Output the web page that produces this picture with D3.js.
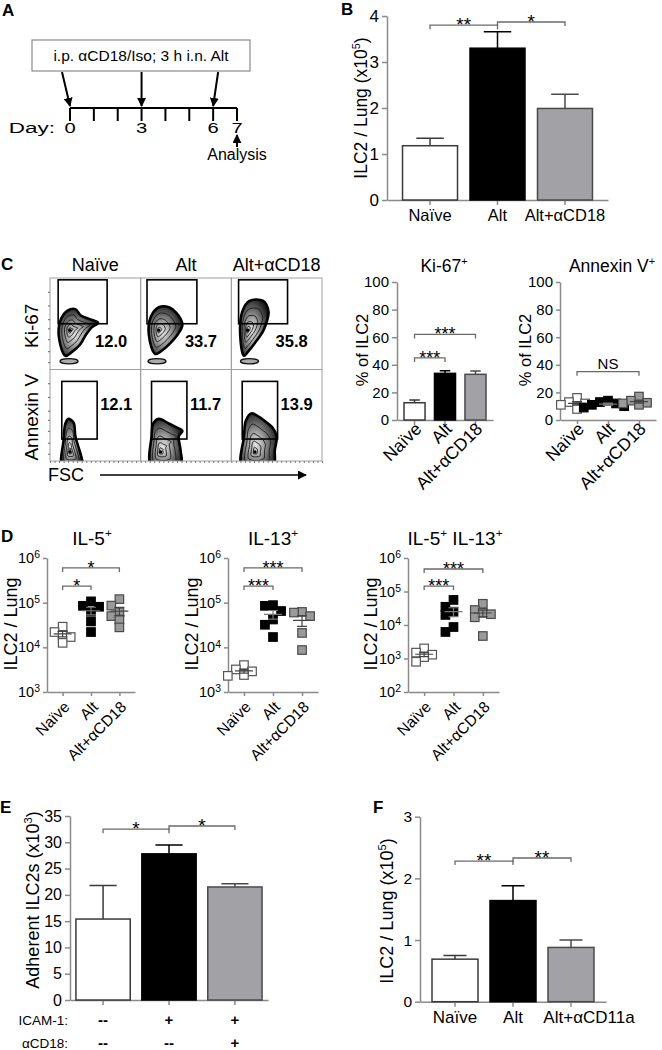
<!DOCTYPE html>
<html>
<head>
<meta charset="utf-8">
<script src="https://cdn.jsdelivr.net/npm/d3@7/dist/d3.min.js"></script>
<style>
html,body{margin:0;padding:0;background:#fff;}
svg{display:block;}
svg text{font-family:"Liberation Sans",Arial,Helvetica,sans-serif;fill:#000;}
</style>
</head>
<body>
<svg id="fig" width="662" height="1050"></svg>
<script>
// ================= DATA =================
// Panel A – protocol timeline
const timelineDays = [0,1,2,3,4,5,6,7];
const labelledDays = [0,3,6,7];
const treatmentDays = [0,3,6];
const analysisDay = 7;
const protocolText = "i.p. αCD18/Iso; 3 h i.n. Alt";

// Panel B – ILC2 per lung (x10^5)
const groupsB = ["Naïve","Alt","Alt+αCD18"];
const meanB = [1.18, 3.30, 1.99];
const semB = [0.16, 0.36, 0.31];
const ticksB = [0,1,2,3,4];
const sigB = [[0,1,3.80,"**"],[1,2,3.87,"*"]];

// Panel C – flow plots (FSC vs marker, 0-100 display units)
const flowGroups = ["Naïve","Alt","Alt+αCD18"];
const flowMarkers = ["Ki-67","Annexin V"];
const flowPercent = [["12.0","33.7","35.8"],["12.1","11.7","13.9"]];
const ki67Gates = [[9,63,50,98],[7,62,50,98],[8,62,50,98]];
const annexinGates = [[13,52,24,87],[12,51,24,87],[12,51,24,87]];
const ki67NaiveOutline = [[17,15],[10,34],[11,52],[19,64],[28,66],[34,59],[44,55],[53,51],[46,46],[39,37],[33,27],[24,19]];
const ki67AltOutline = [[16,17],[9,38],[11,57],[20,68],[31,68],[40,61],[46,49],[42,40],[33,29],[24,21]];
const ki67CD18Outline = [[14,15],[10,34],[12,63],[20,75],[35,75],[41,63],[39,52],[35,42],[26,29],[18,19]];
const ki67Peaks = [[22,43],[20,43],[18,43]];
const ki67Debris = [[21,9],[18,9],[20,9]];
const annexinNaiveOutline = [[20,46],[26,42],[28,27],[35,3],[36,-6],[14,-6],[15,23],[17,41]];
const annexinAltOutline = [[20,46],[31,41],[39,37],[46,33],[42,27],[44,12],[44,-6],[12,-6],[12,27],[14,41]];
const annexinCD18Outline = [[22,52],[31,48],[39,42],[45,37],[50,27],[48,12],[46,-6],[12,-6],[14,27],[16,44]];
const annexinPeaks = [[22,10],[22,10],[26,10]];

// Panel C – Ki-67+ and Annexin V+ (% of ILC2)
const meanKi67 = [12.5, 33.8, 33.1];
const semKi67 = [2.0, 1.9, 2.4];
const ticksPct = [0,20,40,60,80,100];
const sigKi67 = [[0,1,45,"***"],[0,2,62,"***"]];
const annexinNaive = [12, 16, 8, 11, 13];
const annexinAlt = [13, 11, 9, 12, 10, 14];
const annexinCD18 = [17, 12.5, 11, 14, 12];
const sigAnnexin = [[0,2,35,"NS"]];

// Panel D – cytokine+ ILC2 per lung (log)
const il5Naive = [2.9e4, 2.2e4, 1.9e4, 1.7e4, 1.26e4];
const il5Alt = [1.07e5, 8.5e4, 8.1e4, 6.3e4, 3.8e4, 2.2e4];
const il5CD18 = [1.2e5, 8.6e4, 6.1e4, 5.0e4, 4.2e4, 2.8e4];
const il13Naive = [4.0e3, 3.2e3, 2.9e3, 2.4e3, 2.3e3];
const il13Alt = [8.8e4, 8.5e4, 6.5e4, 4.2e4, 3.2e4, 1.7e4];
const il13CD18 = [6.2e4, 6.0e4, 5.0e4, 2.1e4, 8.7e3];
const dpNaive = [2.0e3, 1.5e3, 1.3e3, 1.1e3, 8.0e2];
const dpAlt = [5.6e4, 3.5e4, 2.5e4, 2.0e4, 8.7e3, 6.2e3];
const dpCD18 = [4.3e4, 2.8e4, 2.3e4, 2.1e4, 1.7e4, 4.7e3];
const ticksLog3 = [1e3,1e4,1e5,1e6];
const ticksLog2 = [1e2,1e3,1e4,1e5,1e6];
const sigIL5 = [[0,1,2.35e5,"*"],[0,2,6.0e5,"*"]];
const sigIL13 = [[0,1,2.35e5,"***"],[0,2,6.0e5,"***"]];
const sigDP = [[0,1,1.45e5,"***"],[0,2,4.7e5,"***"]];

// Panel E – adherent ILC2s (x10^3)
const conditionsE = ["medium","ICAM-1","ICAM-1 + αCD18"];
const meanE = [15.4, 27.8, 21.5];
const semE = [6.4, 1.7, 0.6];
const ticksE = [0,5,10,15,20,25,30,35];
const icamRow = ["--","+","+"];
const cd18Row = ["--","--","+"];
const sigE = [[0,1,32.5,"*"],[1,2,33.1,"*"]];

// Panel F – ILC2 per lung (x10^5)
const groupsF = ["Naïve","Alt","Alt+αCD11a"];
const meanF = [0.69, 1.64, 0.88];
const semF = [0.06, 0.24, 0.12];
const ticksF = [0,1,2,3];
const sigF = [[0,1,2.28,"**"],[1,2,2.33,"**"]];

// ================= DRAWING =================
const svg = d3.select("#fig");
svg.append("rect").attr("width",662).attr("height",1050).attr("fill","#fff");
const AX = "#8a8a8a";
const BR = "#6a6a6a";
const barFills = ["#ffffff","#000000","#a2a2a6"];
const barStrokes = ["#3a3a3a","#000000","#4a4a4a"];
const ptFills = ["#ffffff","#000000","#9a9a9a"];
const ptStrokes = ["#555555","#000000","#4a4a4a"];

const defs = svg.append("defs");
defs.append("marker").attr("id","arr").attr("viewBox","0 0 10 10").attr("refX",9).attr("refY",5)
  .attr("markerWidth",9).attr("markerHeight",9).attr("markerUnits","userSpaceOnUse").attr("orient","auto")
  .append("path").attr("d","M0,0L10,5L0,10z").attr("fill","#000");
const zebra = defs.append("radialGradient").attr("id","zebra").attr("cx","42%").attr("cy","55%").attr("r","60%");
[[0,"#e4e4e4"],[0.35,"#a6a6a6"],[0.7,"#585858"],[1,"#1e1e1e"]]
  .forEach(([o,c]) => zebra.append("stop").attr("offset",o).attr("stop-color",c));

function rich(t, parts, size) {
  let cur = 0;
  parts.forEach(p => {
    const sup = Array.isArray(p);
    const off = sup ? -0.42*size : 0;
    const ts = t.append("tspan").text(sup ? p[0] : p).attr("dy", (off-cur) + "px");
    if (sup) ts.attr("font-size", size*0.62);
    cur = off;
  });
  return t;
}
function letter(s, x, y) {
  svg.append("text").attr("x",x).attr("y",y).attr("font-size",17).attr("font-weight","bold").text(s);
}
function yLabel(cx, cy, parts, size) {
  const t = svg.append("text").attr("transform",`translate(${cx + 0.36*size},${cy}) rotate(-90)`)
    .attr("text-anchor","middle").attr("font-size",size);
  rich(t, parts, size);
}
function title(cx, y, parts, size) {
  const t = svg.append("text").attr("x",cx).attr("y",y).attr("text-anchor","middle").attr("font-size",size);
  rich(t, parts, size);
}
function styleAxis(g, fs) {
  g.select(".domain").attr("stroke",AX).attr("stroke-width",1.5);
  g.selectAll(".tick line").attr("stroke",AX).attr("stroke-width",1.5);
  g.selectAll(".tick text").attr("font-size",fs).attr("fill","#000");
}
function brackets(g, cx, y, list, size) {
  list.forEach(([a,b,v,lab]) => {
    const yy = y(v), x1 = cx(a), x2 = cx(b);
    g.append("path").attr("d",`M${x1},${yy+4}V${yy}H${x2}V${yy+4}`)
      .attr("fill","none").attr("stroke",BR).attr("stroke-width",1.3);
    const star = lab.indexOf("*") >= 0;
    g.append("text").attr("x",(x1+x2)/2).attr("y", star ? yy + 0.32*size : yy - 3)
      .attr("text-anchor","middle").attr("font-size", star ? size : 15).text(lab);
  });
}
function rotLabels(g, cx, cats, axisY, size, dx, dy) {
  cats.forEach((c,i) => {
    g.append("text").attr("transform",`translate(${cx(i)+dx},${axisY+dy}) rotate(-45)`)
      .attr("text-anchor","end").attr("font-size",size).text(c);
  });
}

function barPanel(o) {
  const g = svg.append("g");
  const x = d3.scaleBand().domain(o.cats).range([o.left,o.right]).paddingInner(o.pi).paddingOuter(o.po);
  const y = d3.scaleLinear().domain([0,o.max]).range([o.bottom,o.top]);
  const ya = g.append("g").attr("transform",`translate(${o.left},0)`)
    .call(d3.axisLeft(y).tickValues(o.ticks).tickFormat(d3.format("d")).tickSize(5).tickSizeOuter(0).tickPadding(3));
  styleAxis(ya, o.tickFs);
  const xa = g.append("g").attr("transform",`translate(0,${o.bottom})`)
    .call(d3.axisBottom(x).tickSize(5).tickSizeOuter(0).tickFormat(""));
  styleAxis(xa, 10);
  const cx = i => x(o.cats[i]) + x.bandwidth()/2;
  const cap = x.bandwidth()*0.25;
  o.means.forEach((m,i) => {
    const top = y(m + o.sems[i]);
    g.append("path").attr("d",`M${cx(i)},${y(m)}V${top}M${cx(i)-cap},${top}H${cx(i)+cap}`)
      .attr("stroke",barStrokes[i]).attr("stroke-width",1.5).attr("fill","none");
  });
  g.selectAll(null).data(o.means).join("rect")
    .attr("x",(d,i) => x(o.cats[i])).attr("y",d => y(d))
    .attr("width",x.bandwidth()).attr("height",d => y(0) - y(d))
    .attr("fill",(d,i) => barFills[i]).attr("stroke",(d,i) => barStrokes[i]).attr("stroke-width",1.5);
  brackets(g, cx, y, o.sig, o.sigFs);
  return {g, x, y, cx};
}

function scatterPanel(o) {
  const g = svg.append("g");
  const x = d3.scalePoint().domain(o.cats).range([o.left,o.right]).padding(0.55);
  const y = (o.log ? d3.scaleLog() : d3.scaleLinear()).domain(o.domain).range([o.bottom,o.top]);
  const ya = g.append("g").attr("transform",`translate(${o.left},0)`)
    .call(d3.axisLeft(y).tickValues(o.ticks).tickFormat(d3.format("d")).tickSize(4).tickSizeOuter(0).tickPadding(3));
  styleAxis(ya, o.tickFs);
  if (o.log) {
    ya.selectAll(".tick text").each(function(d) {
      const t = d3.select(this); t.text(null);
      t.append("tspan").text("10");
      t.append("tspan").attr("dy","-0.45em").attr("font-size","0.72em").text(Math.round(Math.log10(d)));
    });
  }
  const xa = g.append("g").attr("transform",`translate(0,${o.bottom})`)
    .call(d3.axisBottom(x).tickSize(4).tickSizeOuter(0).tickFormat(""));
  styleAxis(xa, 10);
  const s = o.size;
  o.groups.forEach((vals, gi) => {
    const c = x(o.cats[gi]);
    const placed = [];
    vals.slice().sort((a,b) => b-a).forEach(v => {
      const py = y(v);
      let px = c;
      for (const k of [0,-1,1,-2,2,-3,3]) {
        const cand = c + k*s*0.95;
        if (!placed.some(p => Math.abs(p[0]-cand) < s*0.85 && Math.abs(p[1]-py) < s*0.85)) { px = cand; break; }
      }
      placed.push([px,py]);
    });
    g.selectAll(null).data(placed).join("rect")
      .attr("x",p => p[0]-s/2).attr("y",p => p[1]-s/2).attr("width",s).attr("height",s)
      .attr("fill",ptFills[gi]).attr("stroke",ptStrokes[gi]).attr("stroke-width",1.2);
    const m = d3.mean(vals), se = d3.deviation(vals)/Math.sqrt(vals.length);
    const lo = y(Math.max(m-se, o.domain[0])), hi = y(m+se), ym = y(m);
    g.append("path").attr("d",`M${c-9},${ym}H${c+9}M${c},${lo}V${hi}M${c-5},${lo}H${c+5}M${c-5},${hi}H${c+5}`)
      .attr("stroke", gi === 1 ? "#777" : "#444").attr("stroke-width",1.2).attr("fill","none");
  });
  const cx = i => x(o.cats[i]);
  brackets(g, cx, y, o.sig, o.sigFs);
  return {g, x, y, cx};
}

// ---------- Panel A ----------
letter("A", 2, 16);
const dayX = d3.scaleLinear().domain([0,7]).range([70,237]);
const tlY = 108;
const gA = svg.append("g");
gA.append("rect").attr("x",32).attr("y",40).attr("width",218).attr("height",31)
  .attr("fill","#fff").attr("stroke","#8a8a8a").attr("stroke-width",1.2);
gA.append("text").attr("x",141).attr("y",61).attr("text-anchor","middle").attr("font-size",15.5).text(protocolText);
gA.append("line").attr("x1",dayX(timelineDays[0])).attr("x2",dayX(timelineDays[timelineDays.length-1]))
  .attr("y1",tlY).attr("y2",tlY).attr("stroke","#000").attr("stroke-width",2);
gA.selectAll(null).data(timelineDays).join("line")
  .attr("x1",d => dayX(d)).attr("x2",d => dayX(d)).attr("y1",tlY).attr("y2",tlY+13)
  .attr("stroke","#000").attr("stroke-width",2);
gA.selectAll(null).data(labelledDays).join("text")
  .attr("transform",d => `translate(${dayX(d)},133) scale(1.3,1)`).attr("text-anchor","middle").attr("font-size",15.5).text(d => d);
gA.append("text").attr("transform",`translate(${dayX(0)-15},133) scale(1.45,1)`).attr("text-anchor","end").attr("font-size",15.5).text("Day:");
const arrowTilt = [-8, 0, 5];
treatmentDays.forEach((d,i) => {
  gA.append("line").attr("x1",dayX(d)+arrowTilt[i]).attr("y1",72).attr("x2",dayX(d)).attr("y2",tlY-2)
    .attr("stroke","#000").attr("stroke-width",2).attr("marker-end","url(#arr)");
});
gA.append("line").attr("x1",dayX(analysisDay)).attr("x2",dayX(analysisDay)).attr("y1",147).attr("y2",135)
  .attr("stroke","#000").attr("stroke-width",2).attr("marker-end","url(#arr)");
gA.append("text").attr("x",dayX(analysisDay)).attr("y",160).attr("text-anchor","middle").attr("font-size",16).text("Analysis");

// ---------- Panel B ----------
letter("B", 341, 15);
const pB = barPanel({cats:groupsB, means:meanB, sems:semB, ticks:ticksB, max:4,
  left:387, right:608, top:16, bottom:200, pi:0.185, po:0.23, tickFs:17, sig:sigB, sigFs:19});
groupsB.forEach((c,i) => pB.g.append("text").attr("x",pB.cx(i)).attr("y",221).attr("text-anchor","middle").attr("font-size",16.5).text(c));
yLabel(361, 108, ["ILC2 / Lung (x10",["5"],")"], 17.5);

// ---------- Panel C: flow ----------
letter("C", 1, 270);
const colBand = d3.scaleBand().domain(flowGroups).range([50,322]);
const rowBand = d3.scaleBand().domain(flowMarkers).range([278,461]);
const gC = svg.append("g");
const ki67Outlines = [ki67NaiveOutline, ki67AltOutline, ki67CD18Outline];
const annexinOutlines = [annexinNaiveOutline, annexinAltOutline, annexinCD18Outline];
const ringScales = [0.72, 0.48, 0.28, 0.12];
flowMarkers.forEach((mk, ri) => {
  flowGroups.forEach((gr, ci) => {
    const bx = colBand(gr), by = rowBand(mk), bw = colBand.bandwidth(), bh = rowBand.bandwidth();
    const xs = d3.scaleLinear().domain([0,100]).range([bx,bx+bw]);
    const ys = d3.scaleLinear().domain([0,100]).range([by+bh,by]);
    const id = `clip${ri}${ci}`;
    defs.append("clipPath").attr("id",id).append("rect").attr("x",bx).attr("y",by).attr("width",bw).attr("height",bh);
    const cell = gC.append("g").attr("clip-path",`url(#${id})`);
    const outline = ri === 0 ? ki67Outlines[ci] : annexinOutlines[ci];
    const peak = ri === 0 ? ki67Peaks[ci] : annexinPeaks[ci];
    const line = d3.line().x(p => xs(p[0])).y(p => ys(p[1])).curve(d3.curveCatmullRomClosed.alpha(0.5));
    if (ri === 0) {
      const db = ki67Debris[ci];
      cell.append("ellipse").attr("cx",xs(db[0])).attr("cy",ys(db[1])).attr("rx",9).attr("ry",2.6)
        .attr("fill","#aaa").attr("stroke","#111").attr("stroke-width",1.4);
    }
    cell.append("path").attr("d",line(outline)).attr("fill","url(#zebra)").attr("stroke","#000").attr("stroke-width",2.6);
    ringScales.forEach(f => {
      const pts = outline.map(p => [peak[0] + (p[0]-peak[0])*f, peak[1] + (p[1]-peak[1])*f]);
      cell.append("path").attr("d",line(pts)).attr("fill","none").attr("stroke","#1a1a1a").attr("stroke-width",0.9);
    });
    cell.append("circle").attr("cx",xs(peak[0])).attr("cy",ys(peak[1])).attr("r",1.6).attr("fill","#000");
    const gate = ri === 0 ? ki67Gates[ci] : annexinGates[ci];
    gC.append("rect").attr("x",xs(gate[0])).attr("y",ys(gate[3])).attr("width",xs(gate[1])-xs(gate[0]))
      .attr("height",ys(gate[2])-ys(gate[3])).attr("fill","none").attr("stroke","#000").attr("stroke-width",1.6);
    const lx = ri === 0 ? xs(gate[1]) - 12 : xs(gate[1]) + 3;
    const ly = ri === 0 ? ys(gate[2]) + 23 : ys(gate[3]) + 29;
    gC.append("text").attr("x",lx).attr("y",ly).attr("font-size",16.5).attr("font-weight","bold").text(flowPercent[ri][ci]);
    gC.append("rect").attr("x",bx).attr("y",by).attr("width",bw).attr("height",bh)
      .attr("fill","none").attr("stroke","#a0a0a0").attr("stroke-width",1);
  });
});
const flowTickY = d3.scaleLinear().domain([0,100]);
flowMarkers.forEach(mk => {
  const by = rowBand(mk), bh = rowBand.bandwidth();
  flowTickY.range([by+bh,by]);
  const ax = gC.append("g").attr("transform",`translate(${colBand.range()[0]},0)`)
    .call(d3.axisLeft(flowTickY).tickValues([8,20,33,45,55,70,85]).tickSize(2).tickFormat(""));
  ax.select(".domain").remove();
  ax.selectAll(".tick line").attr("stroke","#666");
});
const flowTickX = d3.scaleLinear().domain([0,300]).range([colBand.range()[0], colBand.range()[1]]);
const bxAx = gC.append("g").attr("transform",`translate(0,${rowBand.range()[1]})`)
  .call(d3.axisBottom(flowTickX).ticks(60).tickSize(2).tickFormat(""));
bxAx.select(".domain").remove();
bxAx.selectAll(".tick line").attr("stroke","#777");
flowGroups.forEach(gr => title(colBand(gr)+colBand.bandwidth()/2, 271, [gr], 18));
flowMarkers.forEach(mk => yLabel(31, rowBand(mk)+rowBand.bandwidth()/2 + 2, [mk], 19));
svg.append("text").attr("x",48).attr("y",481).attr("font-size",18).text("FSC");
svg.append("line").attr("x1",100).attr("x2",306).attr("y1",475).attr("y2",475)
  .attr("stroke","#000").attr("stroke-width",1.6).attr("marker-end","url(#arr)");

// ---------- Panel C: Ki-67 bars ----------
const pK = barPanel({cats:groupsB, means:meanKi67, sems:semKi67, ticks:ticksPct, max:100,
  left:397, right:493, top:282, bottom:420, pi:0.31, po:0.23, tickFs:15, sig:sigKi67, sigFs:18});
rotLabels(pK.g, pK.cx, groupsB, 420, 17.5, 8, 10);
title(444, 272, ["Ki-67",["+"]], 17.5);
yLabel(362, 350, ["% of ILC2"], 16.5);

// ---------- Panel C: Annexin V scatter ----------
const pAn = scatterPanel({cats:groupsB, groups:[annexinNaive, annexinAlt, annexinCD18], log:false,
  domain:[0,100], ticks:ticksPct, left:560, right:656, top:282, bottom:420, size:8.5, tickFs:15, sig:sigAnnexin, sigFs:18});
rotLabels(pAn.g, pAn.cx, groupsB, 420, 17.5, 8, 10);
title(612, 272, ["Annexin V",["+"]], 17.5);
yLabel(525, 350, ["% of ILC2"], 16.5);

// ---------- Panel D ----------
letter("D", 1, 542);
const dPanels = [
  {groups:[il5Naive, il5Alt, il5CD18], domain:[1e3,1e6], ticks:ticksLog3, left:47, right:135, sig:sigIL5, title:["IL-5",["+"]], tx:92, lx:11},
  {groups:[il13Naive, il13Alt, il13CD18], domain:[1e3,1e6], ticks:ticksLog3, left:228, right:318, sig:sigIL13, title:["IL-13",["+"]], tx:273, lx:192},
  {groups:[dpNaive, dpAlt, dpCD18], domain:[1e2,1e6], ticks:ticksLog2, left:408, right:499, sig:sigDP, title:["IL-5",["+"]," IL-13",["+"]], tx:455, lx:371}
];
dPanels.forEach(d => {
  const p = scatterPanel({cats:groupsB, groups:d.groups, log:true, domain:d.domain, ticks:d.ticks,
    left:d.left, right:d.right, top:558, bottom:692, size:8.5, tickFs:14.5, sig:d.sig, sigFs:18});
  rotLabels(p.g, p.cx, groupsB, 692, 15.5, 8, 16);
  title(d.tx, 545, d.title, 19);
  yLabel(d.lx, 624, ["ILC2 / Lung"], 18);
});

// ---------- Panel E ----------
letter("E", 0, 813);
const pE = barPanel({cats:conditionsE, means:meanE, sems:semE, ticks:ticksE, max:35,
  left:70, right:268, top:816, bottom:1000, pi:0.176, po:0.09, tickFs:16, sig:sigE, sigFs:19});
yLabel(33, 900, ["Adherent ILC2s (x10",["3"],")"], 18);
svg.append("text").attr("x",68).attr("y",1025).attr("text-anchor","end").attr("font-size",13.5).text("ICAM-1:");
svg.append("text").attr("x",68).attr("y",1048).attr("text-anchor","end").attr("font-size",13.5).text("αCD18:");
icamRow.forEach((s,i) => svg.append("text").attr("x",pE.cx(i)).attr("y",1025).attr("text-anchor","middle").attr("font-size",15).attr("font-weight","bold").text(s));
cd18Row.forEach((s,i) => svg.append("text").attr("x",pE.cx(i)).attr("y",1048).attr("text-anchor","middle").attr("font-size",15).attr("font-weight","bold").text(s));

// ---------- Panel F ----------
letter("F", 373, 813);
const pF = barPanel({cats:groupsF, means:meanF, sems:semF, ticks:ticksF, max:3,
  left:420, right:606, top:816.7, bottom:1001.7, pi:0.207, po:0.207, tickFs:15.5, sig:sigF, sigFs:19});
const catShiftF = [0, 0, 18];
groupsF.forEach((c,i) => pF.g.append("text").attr("x",pF.cx(i)+catShiftF[i]).attr("y",1023).attr("text-anchor","middle").attr("font-size",17).text(c));
yLabel(387, 911, ["ILC2 / Lung (x10",["5"],")"], 18);
</script>
</body>
</html>
